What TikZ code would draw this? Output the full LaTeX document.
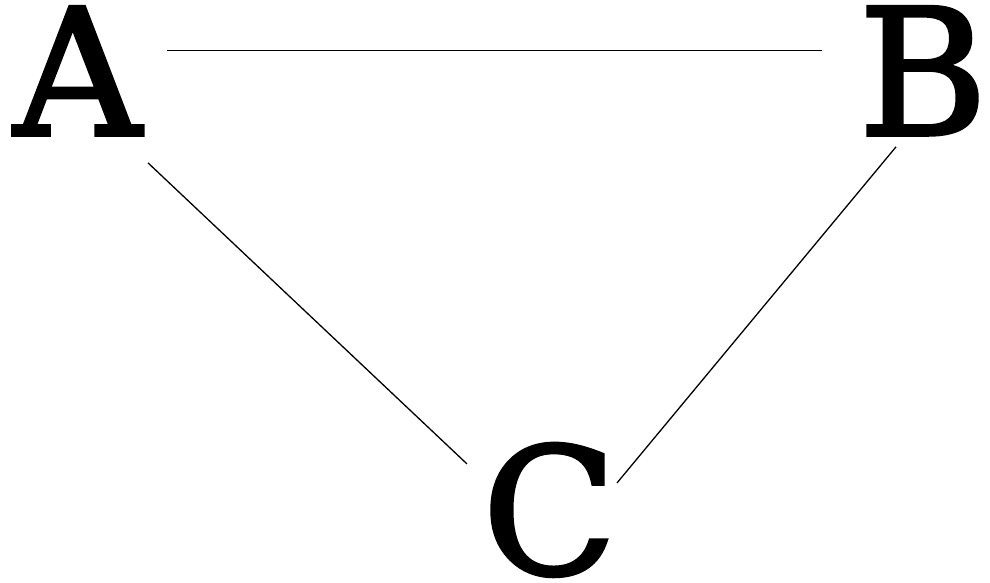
\documentclass[tikz,border=0pt]{standalone}
\usepackage{fontspec}
\setmainfont{DejaVu Serif}
\newfontfamily\lettfont{DejaVu Serif}[RawFeature={embolden=2}]
\usetikzlibrary{calc}
\begin{document}
\begin{tikzpicture}[x=1pt,y=-1pt,
  letter/.style={inner sep=0pt, anchor=base, font=\lettfont\fontsize{176}{176}\selectfont},
  edge/.style={line width=1.3pt, black}]
\useasboundingbox (0,0) rectangle (990,583);
\node[letter] (A) at (77.5,135) {A};
\node[letter] (B) at (923,135) {B};
\node[letter] (C) at (549.5,574) {C};
\draw[edge] ($(A)+(89.5,-20)$) -- ($(B)+(-101,-20)$);
\draw[edge] ($(A)+(70.5,92)$) -- ($(C)+(-82.5,-46)$);
\draw[edge] ($(B)+(-27,76)$) -- ($(C)+(67.5,-27)$);
\end{tikzpicture}
\end{document}
